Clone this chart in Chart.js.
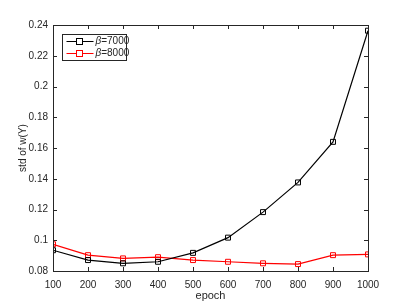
<!DOCTYPE html>
<html>
<head>
<meta charset="utf-8">
<script src="https://cdn.jsdelivr.net/npm/chart.js@4"></script>
<style>
  html, body { margin: 0; padding: 0; background: #fff; }
  #wrap { width: 407px; height: 305px; }
</style>
</head>
<body>
<div id="wrap"><canvas id="grafica"></canvas></div>
<script>
const epochs = [100, 200, 300, 400, 500, 600, 700, 800, 900, 1000]
const beta7000 = [0.0935, 0.0871, 0.0850, 0.0860, 0.0918, 0.1017, 0.1183, 0.1376, 0.1640, 0.2363]
const beta8000 = [0.0974, 0.0903, 0.0882, 0.0890, 0.0871, 0.0860, 0.0850, 0.0845, 0.0903, 0.0908]
const yTicks = ["0.08", "0.1", "0.12", "0.14", "0.16", "0.18", "0.2", "0.22", "0.24"]
const xTicks = ["100", "200", "300", "400", "500", "600", "700", "800", "900", "1000"]
const etiquetas = ["7000", "8000"]

const gris = "#262626"
const fuente = "'Liberation Sans', Arial, sans-serif"

// caja estilo matlab + ticks hacia dentro + leyenda dentro del area
const cajaMatlab = {
  id: "cajaMatlab",
  afterDatasetsDraw(chart) {
    const { ctx, chartArea: a, scales } = chart
    ctx.save()
    ctx.strokeStyle = gris
    ctx.lineWidth = 1
    ctx.strokeRect(Math.round(a.left) + 0.5, Math.round(a.top) + 0.5, Math.round(a.right - a.left), Math.round(a.bottom - a.top))
    const t = 4
    ctx.beginPath()
    scales.x.ticks.forEach(tk => {
      const px = Math.round(scales.x.getPixelForValue(tk.value)) + 0.5
      ctx.moveTo(px, a.bottom); ctx.lineTo(px, a.bottom - t)
      ctx.moveTo(px, a.top); ctx.lineTo(px, a.top + t)
    })
    scales.y.ticks.forEach(tk => {
      const py = Math.round(scales.y.getPixelForValue(tk.value)) + 0.5
      ctx.moveTo(a.left, py); ctx.lineTo(a.left + t, py)
      ctx.moveTo(a.right, py); ctx.lineTo(a.right - t, py)
    })
    ctx.stroke()

    // leyenda
    const lx = a.left + 9.5, ly = a.top + 9.5, lw = 64, lh = 26
    ctx.fillStyle = "#fff"
    ctx.fillRect(lx, ly, lw, lh)
    ctx.strokeStyle = gris
    ctx.strokeRect(lx, ly, lw, lh)
    chart.data.datasets.forEach((ds, i) => {
      const y = ly + 7 + i * 12
      ctx.strokeStyle = ds.borderColor
      ctx.beginPath()
      ctx.moveTo(lx + 4, y); ctx.lineTo(lx + 31, y)
      ctx.stroke()
      ctx.fillStyle = "#fff"
      ctx.fillRect(lx + 14, y - 3, 6, 6)
      ctx.strokeRect(lx + 14, y - 3, 6, 6)
      ctx.fillStyle = gris
      ctx.textBaseline = "middle"
      ctx.font = "italic 10px " + fuente
      ctx.fillText("β", lx + 33, y)
      const wb = ctx.measureText("β").width
      ctx.font = "10px " + fuente
      ctx.fillText("=" + etiquetas[i], lx + 33 + wb, y)
    })
    ctx.restore()
  }
}

const pintarGrafica = () => {
  new Chart(document.getElementById("grafica"), {
    type: "line",
    data: {
      labels: epochs,
      datasets: [
        {
          label: "β=7000",
          data: epochs.map((e, i) => ({ x: e, y: beta7000[i] })),
          borderColor: "#000",
          borderWidth: 1.2,
          pointStyle: "rect",
          pointRadius: 3.5,
          pointBorderWidth: 1,
          pointBackgroundColor: "rgba(0,0,0,0)",
          pointBorderColor: "#000",
          tension: 0,
        },
        {
          label: "β=8000",
          data: epochs.map((e, i) => ({ x: e, y: beta8000[i] })),
          borderColor: "#ff0000",
          borderWidth: 1.2,
          pointStyle: "rect",
          pointRadius: 3.5,
          pointBorderWidth: 1,
          pointBackgroundColor: "rgba(0,0,0,0)",
          pointBorderColor: "#ff0000",
          tension: 0,
        },
      ],
    },
    options: {
      responsive: true,
      maintainAspectRatio: false,
      animation: false,
      layout: { padding: { top: 25, right: 39, left: 13, bottom: 0 } },
      plugins: { legend: { display: false }, tooltip: { enabled: false } },
      scales: {
        x: {
          type: "linear",
          min: 100,
          max: 1000,
          grid: { display: false, drawTicks: false },
          border: { display: false },
          ticks: { stepSize: 100, color: gris, font: { family: fuente, size: 10 }, padding: 8, maxRotation: 0,
            callback: (v, i) => xTicks[i] },
          title: { display: true, text: "epoch", color: gris, font: { family: fuente, size: 11 }, padding: { top: 0, bottom: 2 } },
          afterFit: s => { s.height = 34 },
        },
        y: {
          min: 0.08,
          max: 0.24,
          grid: { display: false, drawTicks: false },
          border: { display: false },
          ticks: {
            stepSize: 0.02,
            color: gris,
            font: { family: fuente, size: 10 },
            padding: 5,
            callback: (v, i) => yTicks[i],
          },
          title: { display: true, text: "std of w(Y)", color: gris, font: { family: fuente, size: 10 }, padding: { bottom: 0 } },
          afterFit: s => { s.width = 40 },
        },
      },
    },
    plugins: [cajaMatlab],
  })
}

window.addEventListener("load", pintarGrafica)
</script>
</body>
</html>
